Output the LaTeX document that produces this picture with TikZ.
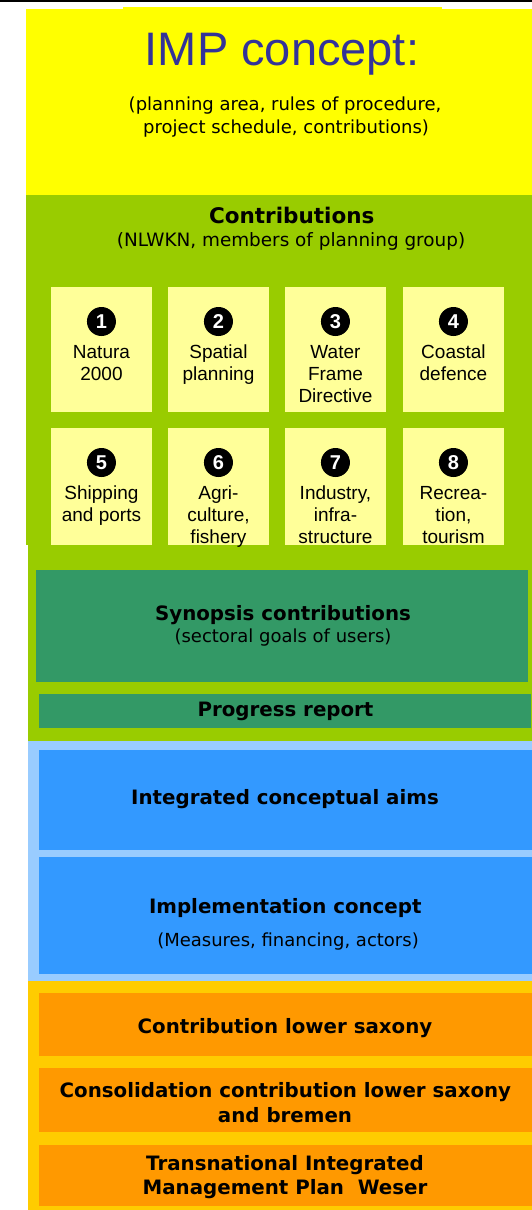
\documentclass[tikz,border=0pt]{standalone}
\usepackage{fontspec}
\usetikzlibrary{calc}
\setmainfont{DejaVu Sans}
\newfontfamily\arialf{Liberation Sans}
\definecolor{cyel}{HTML}{FFFF00}
\definecolor{cgreen}{HTML}{99CC00}
\definecolor{cpale}{HTML}{FFFF99}
\definecolor{cteal}{HTML}{339966}
\definecolor{clblue}{HTML}{99CCFF}
\definecolor{cblue}{HTML}{3399FF}
\definecolor{cgold}{HTML}{FFCC00}
\definecolor{corange}{HTML}{FF9900}
\definecolor{ctitle}{HTML}{333399}
\tikzset{
  topic/.style={draw=none, fill=cpale, inner sep=0pt, anchor=north west},
  bar/.style={draw=none, inner sep=0pt, anchor=north west},
  num/.style={circle, fill=black, text=white, inner sep=0pt, minimum size=29pt,
              font=\arialf\bfseries\fontsize{20}{20}\selectfont},
  ttxt/.style={anchor=base, inner sep=0pt, font=\arialf\fontsize{19}{19}\selectfont},
  btxt/.style={anchor=base, inner sep=0pt, font=\bfseries\fontsize{19.8}{19.8}\selectfont},
  rtxt/.style={anchor=base, inner sep=0pt, font=\fontsize{18}{18}\selectfont},
}
\begin{document}
\begin{tikzpicture}[x=1pt,y=-1pt]
\useasboundingbox (0,0) rectangle (532,1210);
\fill[white] (0,0) rectangle (532,1210);
% top rule
\fill[black] (0,0) rectangle (532,1.5);
% background bands
\fill[cyel] (26,8.7) rectangle (532,195);
\fill[cgreen] (26,195) rectangle (532,545);
\fill[cgreen] (28,545) rectangle (532,741);
\fill[clblue] (28,741) rectangle (532,981);
\fill[cgold] (28,981) rectangle (532,1210);
% title
\fill[cyel] (123,6.7) rectangle (442,83);
\node[anchor=base, inner sep=0pt, text=ctitle, font=\arialf\fontsize{47}{47}\selectfont] (title) at (282,65) {IMP concept:};
\node[rtxt] (sub1) at (285,110) {(planning area, rules of procedure,};
\node[rtxt] (sub2) at (286,133.3) {project schedule, contributions)};
% contributions header
\node[btxt, font=\bfseries\fontsize{21.5}{21.5}\selectfont] (contr) at (291.7,223.3) {Contributions};
\node[rtxt, font=\fontsize{18.4}{18.4}\selectfont] (contrs) at (291,246.5) {(NLWKN, members of planning group)};
% topic boxes
\foreach \i/\x/\y/\h/\la/\lb/\lc in {
  1/51/287/125/{Natura}/{2000}/{},
  2/168/287/125/{Spatial}/{planning}/{},
  3/285/287/125/{Water}/{Frame}/{Directive},
  4/403/287/125/{Coastal}/{defence}/{},
  5/51/428/117/{Shipping}/{and ports}/{},
  6/168/428/117/{Agri-}/{culture,}/{fishery},
  7/285/428/117/{Industry,}/{infra-}/{structure},
  8/403/428/117/{Recrea-}/{tion,}/{tourism}}{
  \node[topic, minimum width=100.5pt, minimum height=\h pt] (b\i) at (\x,\y) {};
  \node[num] (n\i) at ($(b\i.north)+(0,34.5)$) {\i};
  \node[ttxt] (la\i) at ($(b\i.north)+(0,71)$) {\la};
  \node[ttxt] (lb\i) at ($(b\i.north)+(0,93)$) {\lb};
  \node[ttxt] (lc\i) at ($(b\i.north)+(0,115)$) {\lc};
}
% synopsis
\node[bar, fill=cteal, minimum width=492.5pt, minimum height=112pt] (syn) at (35.6,570) {};
\node[btxt] (synt) at (283,620) {Synopsis contributions};
\node[rtxt] (syns) at (283,642) {(sectoral goals of users)};
\node[bar, fill=cteal, minimum width=492pt, minimum height=34pt] (prog) at (38.3,693.3) {};
\node[btxt] (progt) at (285.5,716.5) {Progress report};
% blue
\node[bar, fill=cblue, minimum width=493pt, minimum height=100.7pt] (aims) at (38.3,749.3) {};
\node[btxt] (aimst) at (285,804) {Integrated conceptual aims};
\node[bar, fill=cblue, minimum width=493pt, minimum height=117.3pt] (impl) at (38.3,856.7) {};
\node[btxt] (implt) at (285.3,913) {Implementation concept};
\node[rtxt] (impls) at (288,946) {(Measures, financing, actors)};
% orange
\node[bar, fill=corange, minimum width=493pt, minimum height=63.7pt] (o1) at (38.3,992.3) {};
\node[btxt] (o1t) at (285,1033.3) {Contribution lower saxony};
\node[bar, fill=corange, minimum width=493pt, minimum height=64pt] (o2) at (38.3,1067.7) {};
\node[btxt] (o2a) at (285.4,1097.7) {Consolidation contribution lower saxony};
\node[btxt] (o2b) at (285,1122.7) {and bremen};
\node[bar, fill=corange, minimum width=493pt, minimum height=61.7pt] (o3) at (38.3,1144.3) {};
\node[btxt] (o3a) at (285,1170) {Transnational Integrated};
\node[btxt] (o3b) at (285,1194.3) {Management Plan\ \ Weser};
\end{tikzpicture}
\end{document}
